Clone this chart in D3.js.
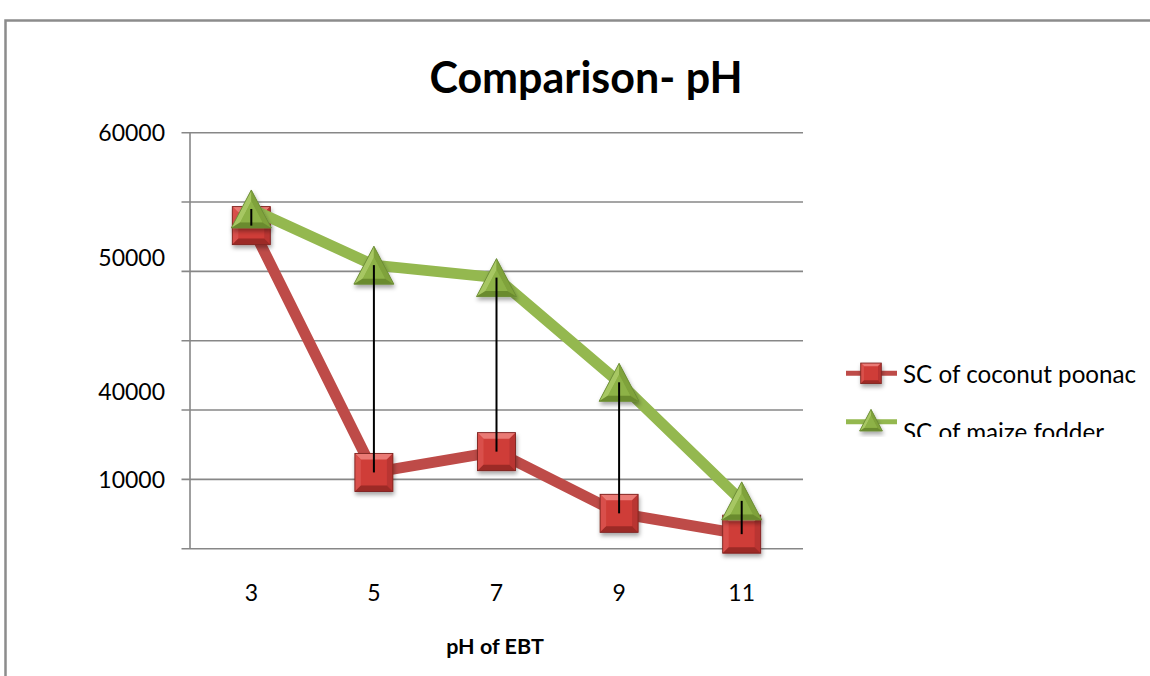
<!DOCTYPE html>
<html>
<head>
<meta charset="utf-8">
<script src="https://cdn.jsdelivr.net/npm/d3@7"></script>
<style>
  html, body { margin: 0; padding: 0; background: #ffffff; }
  svg { display: block; }
  text { font-family: Lato, "Open Sans", sans-serif; fill: #000; }
</style>
</head>
<body>
<svg id="chart" width="1150" height="676"></svg>
<script>
// ---- data ----
const categories = ["3", "5", "7", "9", "11"];
const coconutPoonac = [46600, 11000, 14000, 5100, 2100];
const maizeFodder = [49000, 40900, 39100, 24000, 6900];
const seriesNames = ["SC of coconut poonac", "SC of maize fodder"];
const gridValues = [0, 10000, 20000, 30000, 40000, 50000, 60000];
const yTickValues = [60000, 42000, 22700, 10000];
const yTickLabels = ["60000", "50000", "40000", "10000"];
const titleText = "Comparison- pH";
const xAxisTitle = "pH of EBT";

// ---- layout ----
const W = 1150, H = 676;
const plot = { left: 190, right: 803, top: 132.7, bottom: 548.7 };
const svg = d3.select("#chart");

const x = d3.scalePoint().domain(categories).range([plot.left, plot.right]).padding(0.5);
const y = d3.scaleLinear().domain([0, 60000]).range([plot.bottom, plot.top]);

// defs: shadow + clip
const defs = svg.append("defs");
const f = defs.append("filter").attr("id", "shadow").attr("x", "-50%").attr("y", "-50%").attr("width", "200%").attr("height", "200%");
f.append("feDropShadow").attr("dx", 1).attr("dy", 3).attr("stdDeviation", 2).attr("flood-color", "#000").attr("flood-opacity", 0.35);
defs.append("clipPath").attr("id", "legendClip").append("rect")
  .attr("x", 830).attr("y", 340).attr("width", 320).attr("height", 97);

// outer frame
svg.append("rect").attr("x", 0).attr("y", 0).attr("width", W).attr("height", H).attr("fill", "#fff");
svg.append("rect").attr("x", 5.5).attr("y", 20.5).attr("width", 1300).attr("height", 800)
  .attr("fill", "#fff").attr("stroke", "#8c8c8c").attr("stroke-width", 2.5);

// title
svg.append("text").attr("x", 586).attr("y", 93).attr("text-anchor", "middle")
  .style("font-weight", 700).style("font-size", "43px").text(titleText);

// gridlines (with outside tick extension)
svg.append("g").selectAll("line").data(gridValues).join("line")
  .attr("x1", plot.left - 8.5).attr("x2", plot.right)
  .attr("y1", d => y(d)).attr("y2", d => y(d))
  .attr("stroke", "#878787").attr("stroke-width", 1.6);

// y axis line
svg.append("line").attr("x1", plot.left).attr("x2", plot.left)
  .attr("y1", y(60000)).attr("y2", y(0))
  .attr("stroke", "#878787").attr("stroke-width", 1.6);

// y tick labels
svg.append("g").selectAll("text").data(yTickValues).join("text")
  .attr("x", 165).attr("y", d => y(d)).attr("dy", "0.36em")
  .attr("text-anchor", "end").style("font-size", "23px")
  .text((d, i) => yTickLabels[i]);

// x tick labels
svg.append("g").selectAll("text").data(categories).join("text")
  .attr("x", d => x(d)).attr("y", 601).attr("text-anchor", "middle")
  .style("font-size", "23px").text(d => d);

// x axis title
svg.append("text").attr("x", 495).attr("y", 654).attr("text-anchor", "middle")
  .style("font-weight", 700).style("font-size", "21.5px").text(xAxisTitle);

// ---- marker drawing ----
function drawSquare(g, s) {
  const h = 19 * s, i = 6 * s;
  const faces = [
    { p: [[-h,-h],[h,-h],[h-i,-h+i],[-h+i,-h+i]], c: "#ea7a75" },
    { p: [[-h,-h],[-h+i,-h+i],[-h+i,h-i],[-h,h]], c: "#d9504b" },
    { p: [[h,-h],[h,h],[h-i,h-i],[h-i,-h+i]], c: "#b93430" },
    { p: [[-h,h],[-h+i,h-i],[h-i,h-i],[h,h]], c: "#9c2a27" }
  ];
  g.append("rect").attr("x", -h).attr("y", -h).attr("width", 2*h).attr("height", 2*h)
    .attr("fill", "#cf3d38");
  faces.forEach(fc => g.append("path").attr("d", "M" + fc.p.map(q => q.join(",")).join("L") + "Z").attr("fill", fc.c));
  g.append("rect").attr("x", -h).attr("y", -h).attr("width", 2*h).attr("height", 2*h)
    .attr("fill", "none").attr("stroke", "#7e2522").attr("stroke-width", 0.9);
}
function drawTriangle(g, s) {
  const A = [0, -19*s], B = [-20*s, 19*s], C = [20*s, 19*s];
  const cx = 0, cy = (A[1] + B[1] + C[1]) / 3, k = 0.55;
  const inn = v => [cx + (v[0]-cx)*k, cy + (v[1]-cy)*k];
  const A2 = inn(A), B2 = inn(B), C2 = inn(C);
  const poly = pts => "M" + pts.map(q => q.join(",")).join("L") + "Z";
  g.append("path").attr("d", poly([A,B,C])).attr("fill", "#8caf45");
  g.append("path").attr("d", poly([A,B,B2,A2])).attr("fill", "#a7c763");
  g.append("path").attr("d", poly([A,C,C2,A2])).attr("fill", "#7fa23a");
  g.append("path").attr("d", poly([B,C,C2,B2])).attr("fill", "#6b8b2f");
  g.append("path").attr("d", poly([A2,B2,C2])).attr("fill", "#8db246");
  g.append("path").attr("d", poly([A,B,C])).attr("fill", "none").attr("stroke", "#6a8a35").attr("stroke-width", 0.9);
}

const line = d3.line().x((d, i) => x(categories[i])).y(d => y(d));

// red series
svg.append("path").datum(coconutPoonac).attr("d", line)
  .attr("fill", "none").attr("stroke", "#be4b48").attr("stroke-width", 11).attr("stroke-linejoin", "round");
svg.append("g").selectAll("g").data(coconutPoonac).join("g")
  .attr("transform", (d, i) => `translate(${x(categories[i])},${y(d)})`)
  .attr("filter", "url(#shadow)")
  .each(function() { drawSquare(d3.select(this), 1); });

// green series
svg.append("path").datum(maizeFodder).attr("d", line)
  .attr("fill", "none").attr("stroke", "#94b84f").attr("stroke-width", 11).attr("stroke-linejoin", "round");
svg.append("g").selectAll("g").data(maizeFodder).join("g")
  .attr("transform", (d, i) => `translate(${x(categories[i])},${y(d)})`)
  .attr("filter", "url(#shadow)")
  .each(function() { drawTriangle(d3.select(this), 1); });

// high-low lines
svg.append("g").selectAll("line").data(categories).join("line")
  .attr("x1", d => x(d)).attr("x2", d => x(d))
  .attr("y1", (d, i) => y(maizeFodder[i])).attr("y2", (d, i) => y(coconutPoonac[i]))
  .attr("stroke", "#000").attr("stroke-width", 2);

// ---- legend ----
const legend = svg.append("g").attr("clip-path", "url(#legendClip)");
const legendColors = ["#be4b48", "#94b84f"];
const legendLineY = [373.3, 421.7];
const legendTextY = [383, 441];
seriesNames.forEach((name, i) => {
  legend.append("line").attr("x1", 846).attr("x2", 897).attr("y1", legendLineY[i]).attr("y2", legendLineY[i])
    .attr("stroke", legendColors[i]).attr("stroke-width", 5);
  const g = legend.append("g").attr("transform", `translate(871,${legendLineY[i] + (i === 0 ? 0 : -1.5)})`)
    .attr("filter", "url(#shadow)");
  if (i === 0) drawSquare(g, 0.54); else drawTriangle(g, 0.57);
  legend.append("text").attr("x", 903).attr("y", legendTextY[i])
    .style("font-size", "24.2px").text(name);
});
</script>
</body>
</html>
